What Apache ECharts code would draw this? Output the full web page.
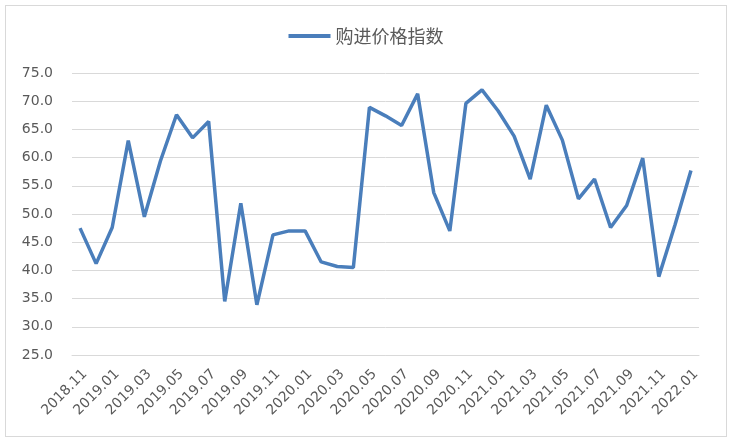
<!DOCTYPE html>
<html><head><meta charset="utf-8">
<script src="https://cdn.jsdelivr.net/npm/echarts@6/dist/echarts.min.js"></script>
<style>html,body{margin:0;padding:0;background:#fff;}#c{width:732px;height:444px;}
#frame{position:absolute;left:5px;top:5px;width:720px;height:430px;border:1px solid #d9d9d9;pointer-events:none;}</style>
</head><body>
<div id="c"></div><div id="frame"></div>
<script>
const seriesName = '购进价格指数';
const categories = ['2018.11','2018.12','2019.01','2019.02','2019.03','2019.04','2019.05','2019.06','2019.07','2019.08','2019.09','2019.10','2019.11','2019.12',
'2020.01','2020.02','2020.03','2020.04','2020.05','2020.06','2020.07','2020.08','2020.09','2020.10','2020.11','2020.12',
'2021.01','2021.02','2021.03','2021.04','2021.05','2021.06','2021.07','2021.08','2021.09','2021.10','2021.11','2021.12','2022.01'];
const values = [47.5,41.2,47.6,63.0,49.5,59.4,67.6,63.5,66.4,34.5,51.9,33.9,46.3,47.0,
47.0,41.5,40.7,40.5,68.9,67.4,65.7,71.3,53.8,47.0,69.6,72.0,
68.3,63.8,56.2,69.3,63.1,52.7,56.2,47.6,51.5,59.9,38.9,48.0,57.7];
const chart = echarts.init(document.getElementById('c'));
const font = '"DejaVu Sans", sans-serif';
chart.setOption({
  animation:false,
  textStyle:{fontFamily:font},
  legend:{top:22,left:'center',itemWidth:42,itemHeight:4,icon:'rect',itemGap:5,
    textStyle:{color:'#595959',fontSize:18,fontFamily:'"Noto Sans CJK SC", sans-serif'},data:[seriesName]},
  grid:{left:72,right:33,top:73,bottom:89},
  xAxis:{type:'category',data:categories,boundaryGap:true,
    axisLine:{show:true,lineStyle:{color:'#d9d9d9'}},axisTick:{show:false},
    axisLabel:{interval:1,rotate:45,color:'#595959',fontSize:14,margin:12,verticalAlign:'top',fontFamily:font}},
  yAxis:{type:'value',min:25,max:75,interval:5,
    axisLine:{show:false},axisTick:{show:false},
    splitLine:{lineStyle:{color:'#d9d9d9',width:1}},
    axisLabel:{color:'#595959',fontSize:14,margin:19,formatter:v=>v.toFixed(1),fontFamily:font}},
  series:[{name:seriesName,type:'line',data:values,symbol:'none',
    lineStyle:{color:'#4a7ebb',width:3.5},itemStyle:{color:'#4a7ebb'}}]
});
</script>
</body></html>
